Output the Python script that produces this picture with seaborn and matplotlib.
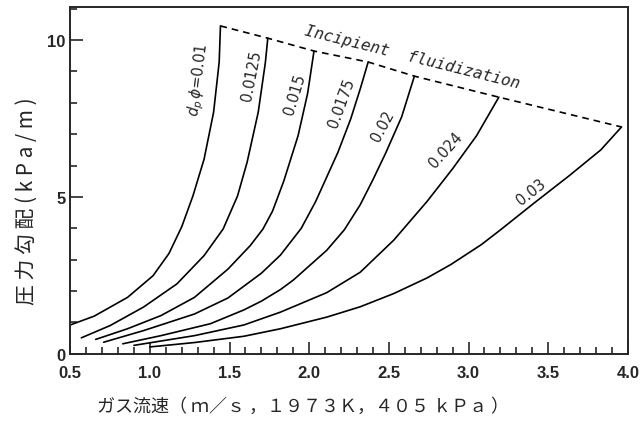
import numpy as np
import pandas as pd
import matplotlib
matplotlib.use("Agg")
import matplotlib.pyplot as plt
import seaborn as sns
from matplotlib.ticker import MultipleLocator

# ------------------------------------------------------------
# data (gas velocity m/s, pressure gradient kPa/m)
# ------------------------------------------------------------
u_001 = [0.50, 0.65, 0.86, 1.02, 1.12, 1.20, 1.27, 1.34, 1.40, 1.435, 1.443]
p_001 = [0.92, 1.20, 1.80, 2.49, 3.20, 4.05, 5.03, 6.20, 7.70, 9.30, 10.45]

u_0125 = [0.57, 0.75, 0.96, 1.17, 1.34, 1.46, 1.55, 1.61, 1.68, 1.725, 1.74]
p_0125 = [0.51, 0.90, 1.49, 2.23, 3.13, 3.98, 5.03, 6.10, 7.70, 9.29, 10.06]

u_015 = [0.66, 0.86, 1.07, 1.28, 1.49, 1.63, 1.71, 1.77, 1.84, 1.93, 1.99, 2.03]
p_015 = [0.46, 0.80, 1.22, 1.80, 2.70, 3.45, 3.98, 4.55, 5.50, 6.95, 8.30, 9.65]

u_0175 = [0.71, 0.96, 1.28, 1.49, 1.70, 1.82, 1.95, 2.04, 2.18, 2.26, 2.32, 2.37]
p_0175 = [0.37, 0.74, 1.27, 1.78, 2.57, 3.15, 4.00, 4.85, 6.42, 7.48, 8.44, 9.30]

u_002 = [0.83, 1.07, 1.38, 1.59, 1.70, 1.82, 1.90, 2.11, 2.22, 2.32, 2.40, 2.48, 2.58, 2.66]
p_002 = [0.32, 0.58, 0.96, 1.40, 1.68, 2.05, 2.35, 3.30, 3.95, 4.75, 5.55, 6.40, 7.55, 8.85]

u_0024 = [0.90, 1.28, 1.59, 1.82, 2.11, 2.32, 2.53, 2.74, 2.90, 3.05, 3.19]
p_0024 = [0.27, 0.58, 0.92, 1.33, 1.95, 2.60, 3.62, 4.86, 5.90, 6.95, 8.18]

u_003 = [1.00, 1.28, 1.59, 1.82, 2.11, 2.32, 2.53, 2.74, 2.89, 3.08, 3.20, 3.41, 3.63, 3.83, 3.96]
p_003 = [0.22, 0.36, 0.56, 0.80, 1.17, 1.50, 1.92, 2.42, 2.85, 3.48, 3.95, 4.80, 5.67, 6.50, 7.23]

labels = ["$d_p\\,\\phi$=0.01", "0.0125", "0.015", "0.0175", "0.02", "0.024", "0.03"]
label_x = [1.31, 1.64, 1.91, 2.20, 2.46, 2.86, 3.39]
label_y = [8.76, 8.90, 8.28, 8.03, 7.29, 6.53, 5.19]
label_rot = [83, 79, 73, 70, 62, 48, 38]

curves = [(u_001, p_001), (u_0125, p_0125), (u_015, p_015), (u_0175, p_0175),
          (u_002, p_002), (u_0024, p_0024), (u_003, p_003)]

rows = []
for i, (u, p) in enumerate(curves):
    for a, b in zip(u, p):
        rows.append({"curve": i, "u": a, "dp": b})
df = pd.DataFrame(rows)

# incipient fluidization line runs through the top end of every curve
ends = pd.DataFrame({"u": [c[0][-1] for c in curves], "dp": [c[1][-1] for c in curves]})

# ------------------------------------------------------------
# plot
# ------------------------------------------------------------
sns.set_style("ticks")
plt.rcParams["font.family"] = ["Liberation Sans", "DejaVu Sans"]

fig = plt.figure(figsize=(6.44, 4.27), dpi=100)
ax = fig.add_axes([0.109, 0.169, 0.866, 0.812])

sns.lineplot(data=df, x="u", y="dp", units="curve", estimator=None, sort=False,
             color="black", linewidth=1.2, ax=ax)
sns.lineplot(data=ends, x="u", y="dp", sort=False, color="black",
             linewidth=1.2, linestyle=(0, (4, 3)), ax=ax)

for t, x, y, r in zip(labels, label_x, label_y, label_rot):
    ax.text(x, y, t, rotation=r, ha="center", va="center", rotation_mode="anchor",
            fontsize=10.5, family="DejaVu Sans")

ax.text(2.645, 9.49, "Incipient  fluidization", rotation=-14, ha="center", va="center",
        rotation_mode="anchor", fontsize=11.5, family="DejaVu Sans Mono", style="italic")

ax.set_xlim(0.5, 4.0)
ax.set_ylim(0, 11.05)
ax.xaxis.set_major_locator(MultipleLocator(0.5))
ax.xaxis.set_minor_locator(MultipleLocator(0.1))
ax.yaxis.set_major_locator(MultipleLocator(5))
ax.yaxis.set_minor_locator(MultipleLocator(1))
ax.xaxis.set_major_formatter(plt.FuncFormatter(lambda v, _: f"{v:.1f}"))
ax.yaxis.set_major_formatter(plt.FuncFormatter(lambda v, _: f"{v:.0f}"))
ax.tick_params(which="both", direction="in", width=1.2, labelsize=12)
ax.tick_params(which="major", length=9)
ax.tick_params(which="minor", length=5)
ax.tick_params(axis="x", which="major", pad=8)
for lab in ax.get_xticklabels() + ax.get_yticklabels():
    lab.set_fontweight("bold")
for s in ax.spines.values():
    s.set_linewidth(1.4)
ax.set_xlabel("")
ax.set_ylabel("")

fig.text(0.042, 0.53, "圧 力 勾 配 ( k P a / m )", rotation=90, ha="center", va="center",
         fontsize=15, family=["Noto Sans CJK JP", "DejaVu Sans"])
fig.text(0.150, 0.047, "ガス流速（ ｍ／ｓ ，１９７３Ｋ，４０５ ｋＰａ ）", ha="left", va="center",
         fontsize=13, family=["Noto Sans CJK JP", "DejaVu Sans"])

fig.savefig("out.png", dpi=100)
